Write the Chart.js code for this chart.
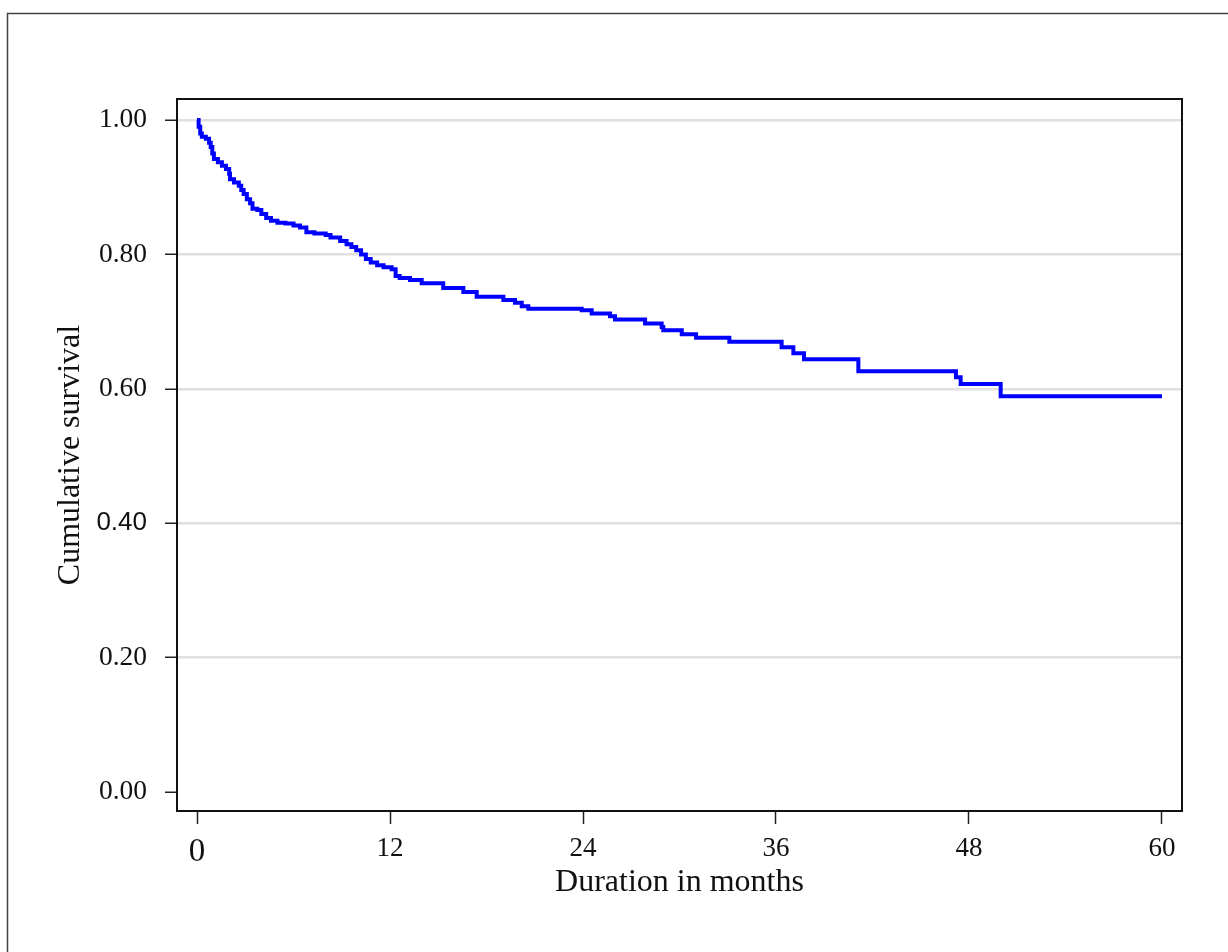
<!DOCTYPE html>
<html>
<head>
<meta charset="utf-8">
<script src="https://cdn.jsdelivr.net/npm/chart.js@4.4.1/dist/chart.umd.min.js"></script>
<style>
  html, body { margin: 0; padding: 0; background: #fff; }
  #wrap { width: 1228px; height: 952px; }
</style>
</head>
<body>
<div id="wrap"><canvas id="kmChart" width="1228" height="952"></canvas></div>
<script>
// Kaplan-Meier estimate (drop time, survival after drop)
const months = [0, 0.1, 0.2, 0.3, 0.55, 0.75, 0.85, 0.95, 1.05, 1.3, 1.55, 1.8, 2.0, 2.05, 2.3, 2.6, 2.75, 2.9,
  3.1, 3.3, 3.45, 3.75, 4.0, 4.3, 4.6, 5.0, 5.5, 6.0, 6.4, 6.8, 7.3, 8.0, 8.3, 8.9, 9.3, 9.6, 9.9, 10.2, 10.5,
  10.8, 11.2, 11.6, 12.1, 12.35, 12.6, 13.24, 13.97, 15.31, 16.56, 17.39, 19.05, 19.77, 20.19, 20.6, 23.92,
  24.54, 25.68, 25.99, 27.86, 28.89, 28.99, 30.14, 31.03, 33.1, 36.35, 37.08, 37.74, 41.12, 47.19, 47.48,
  49.97, 60];
const survival = [1.0, 0.99, 0.98, 0.975, 0.972, 0.966, 0.96, 0.95, 0.942, 0.937, 0.932, 0.927, 0.92, 0.912,
  0.907, 0.902, 0.896, 0.89, 0.882, 0.876, 0.868, 0.866, 0.86, 0.854, 0.85, 0.847, 0.846, 0.843, 0.84, 0.833,
  0.831, 0.829, 0.825, 0.82, 0.815, 0.811, 0.806, 0.8, 0.793, 0.788, 0.784, 0.781, 0.778, 0.768, 0.765, 0.762,
  0.757, 0.75, 0.744, 0.737, 0.732, 0.728, 0.723, 0.719, 0.717, 0.712, 0.708, 0.703, 0.697, 0.692, 0.687,
  0.681, 0.676, 0.67, 0.662, 0.653, 0.644, 0.626, 0.617, 0.607, 0.589, 0.589];

const xTicks = [0, 12, 24, 36, 48, 60];
const yTicks = [0, 0.2, 0.4, 0.6, 0.8, 1.0];

const serif = "'Liberation Serif', 'Times New Roman', serif";
const sans = "'Liberation Sans', Arial, sans-serif";

// plot frame + outer graph region frame
const frames = {
  id: "frames",
  afterDraw(chart) {
    const { ctx, chartArea: a } = chart;
    ctx.save();
    ctx.strokeStyle = "#444";
    ctx.lineWidth = 1.5;
    ctx.strokeRect(7.5, 13.5, 1240, 960);
    ctx.strokeStyle = "#111";
    ctx.lineWidth = 2;
    ctx.strokeRect(a.left, a.top, a.right - a.left, a.bottom - a.top);
    ctx.restore();
  }
};

new Chart(document.getElementById("kmChart"), {
  type: "line",
  data: {
    datasets: [{
      data: months.map((m, i) => ({ x: m, y: survival[i] })),
      borderColor: "#0000ff",
      borderWidth: 4,
      stepped: "before",
      pointRadius: 0,
      fill: false
    }]
  },
  options: {
    responsive: false,
    animation: false,
    layout: { padding: { top: 99, right: 46, left: 0, bottom: 0 } },
    plugins: { legend: { display: false }, tooltip: { enabled: false } },
    scales: {
      x: {
        type: "linear",
        min: -1.244,
        max: 61.244,
        afterBuildTicks: s => { s.ticks = xTicks.map(v => ({ value: v })); },
        afterFit: s => { s.height = 141; },
        border: { display: false },
        grid: { drawOnChartArea: false, drawTicks: true, tickLength: 13, tickColor: "#222", tickWidth: 1.5 },
        ticks: {
          color: "#111",
          padding: 9,
          maxRotation: 0,
          font: ctx => ctx.tick && ctx.tick.value === 0
            ? { family: serif, size: 33 }
            : { family: serif, size: 27 }
        },
        title: {
          display: true,
          text: "Duration in months",
          color: "#111",
          font: { family: serif, size: 32 },
          padding: { top: 0, bottom: 50 }
        }
      },
      y: {
        min: -0.0283,
        max: 1.03125,
        afterBuildTicks: s => { s.ticks = yTicks.map(v => ({ value: v })); },
        afterFit: s => { s.width = 177; },
        border: { display: false },
        grid: {
          drawTicks: true,
          tickLength: 12,
          tickColor: "#222",
          tickWidth: 1.5,
          lineWidth: 2.5,
          color: ctx => ctx.tick && ctx.tick.value === 0 ? "rgba(0,0,0,0)" : "#e0e0e0"
        },
        ticks: {
          color: "#111",
          padding: 18,
          callback: v => Number(v).toFixed(2),
          font: ctx => ctx.tick && Math.abs(ctx.tick.value - 0.4) < 1e-9
            ? { family: sans, size: 26 }
            : { family: serif, size: 27.5 }
        },
        title: {
          display: true,
          text: "Cumulative survival",
          color: "#111",
          font: { family: serif, size: 32 },
          padding: { top: 51, bottom: 0 }
        }
      }
    }
  },
  plugins: [frames]
});
</script>
</body>
</html>
